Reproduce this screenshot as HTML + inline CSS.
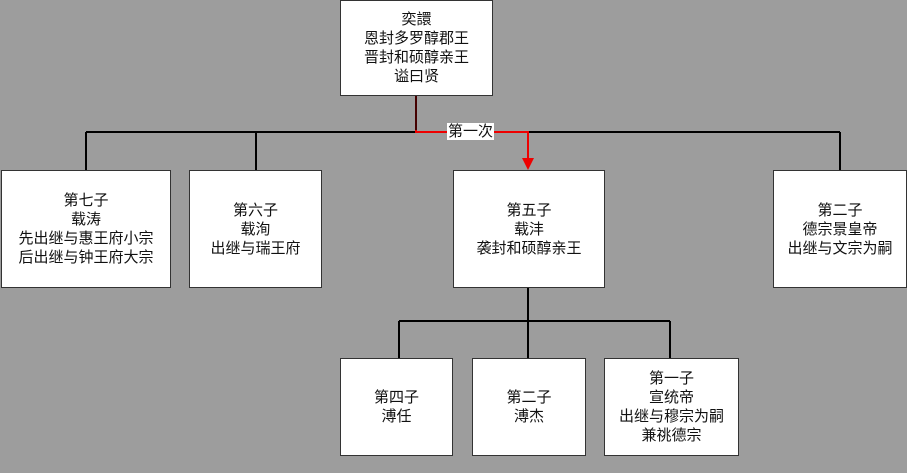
<!DOCTYPE html>
<html><head><meta charset="utf-8"><style>
body{margin:0;width:907px;height:473px;background:#9d9d9d;position:relative;overflow:hidden;font-family:"Liberation Sans","Noto Sans CJK SC",sans-serif;}
.b{position:absolute;background:#fff;border:1px solid #333;box-sizing:border-box;display:flex;align-items:center;justify-content:center;text-align:center;font-size:15px;line-height:19px;color:#111;}
svg{position:absolute;left:0;top:0}
.l{position:absolute;left:447px;top:123px;background:#fff;font-size:15px;line-height:17px;padding:0 1px;color:#111}
</style></head><body>
<svg width="907" height="473">
<g stroke="#000" stroke-width="2" fill="none">
<line x1="86" y1="132" x2="840" y2="132"/>
<line x1="86" y1="132" x2="86" y2="170"/>
<line x1="256" y1="132" x2="256" y2="170"/>
<line x1="840" y1="132" x2="840" y2="170"/>
<line x1="528" y1="287" x2="528" y2="321"/>
<line x1="399" y1="321" x2="670" y2="321"/>
<line x1="399" y1="321" x2="399" y2="358"/>
<line x1="528" y1="321" x2="528" y2="358"/>
<line x1="670" y1="321" x2="670" y2="358"/>
</g>
<polyline points="416,95 416,132 528,132 528,160" stroke="#e00" stroke-width="2" fill="none"/>
<line x1="416" y1="95" x2="416" y2="130" stroke="#400" stroke-width="2"/>
<polygon points="522,158 534,158 528,170" fill="#e00"/>
</svg>
<div class="l">第一次</div>
<div class="b" style="left:340px;top:0;width:153px;height:96px">奕譞<br>恩封多罗醇郡王<br>晋封和硕醇亲王<br>谥曰贤</div>
<div class="b" style="left:1px;top:170px;width:170px;height:118px">第七子<br>载涛<br>先出继与惠王府小宗<br>后出继与钟王府大宗</div>
<div class="b" style="left:189px;top:170px;width:133px;height:118px">第六子<br>载洵<br>出继与瑞王府</div>
<div class="b" style="left:453px;top:170px;width:152px;height:118px">第五子<br>载沣<br>袭封和硕醇亲王</div>
<div class="b" style="left:773px;top:170px;width:134px;height:118px">第二子<br>德宗景皇帝<br>出继与文宗为嗣</div>
<div class="b" style="left:340px;top:358px;width:113px;height:98px">第四子<br>溥任</div>
<div class="b" style="left:472px;top:358px;width:114px;height:98px">第二子<br>溥杰</div>
<div class="b" style="left:604px;top:358px;width:135px;height:98px">第一子<br>宣统帝<br>出继与穆宗为嗣<br>兼祧德宗</div>
</body></html>
